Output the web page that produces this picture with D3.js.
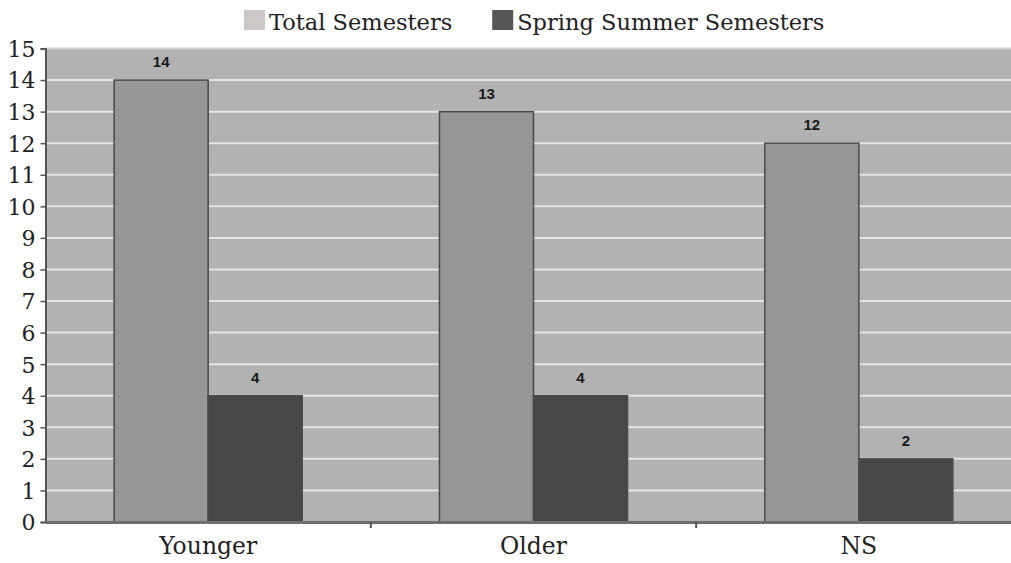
<!DOCTYPE html>
<html lang="en">
<head>
  <meta charset="utf-8">
  <title>Semesters</title>
  <style>
    body { margin: 0; background: #fff; }
    svg { display: block; }
  </style>
</head>
<body>
  <script src="https://cdn.jsdelivr.net/npm/d3@7/dist/d3.min.js"></script>
  <script>
    // chart data
    var categories = ["Younger", "Older", "NS"];
    var seriesNames = ["Total Semesters", "Spring Summer Semesters"];
    var totalSemesters = [14, 13, 12];
    var springSummer = [4, 4, 2];
    var yTicks = [0, 1, 2, 3, 4, 5, 6, 7, 8, 9, 10, 11, 12, 13, 14, 15];

    var barFill = ["#969696", "#474747"];
    var legendFill = ["#ccc8c8", "#555555"];
    var serif = "DejaVu Serif, Liberation Serif, serif";

    var W = 1011, H = 563;
    var margin = { top: 48.5, right: -10.5, bottom: 41, left: 45.5 };
    var width = W - margin.left - margin.right;
    var height = H - margin.top - margin.bottom;

    var rows = categories.map(function(c, i) {
      return { cat: c, values: [totalSemesters[i], springSummer[i]] };
    });

    var svg = d3.select("body").append("svg")
      .attr("width", W)
      .attr("height", H);

    var x0 = d3.scaleBand()
      .domain(categories)
      .range([0, width])
      .paddingInner(0)
      .paddingOuter(0);

    var x1 = d3.scaleBand()
      .domain(d3.range(seriesNames.length))
      .range([0, x0.bandwidth()])
      .paddingInner(0)
      .paddingOuter(0.73);

    var y = d3.scaleLinear()
      .domain([0, 15])
      .range([height, 0]);

    var g = svg.append("g")
      .attr("transform", "translate(" + margin.left + "," + margin.top + ")");

    // plot background
    g.append("rect")
      .attr("x", 0)
      .attr("y", 0)
      .attr("width", width)
      .attr("height", height)
      .attr("fill", "#b2b2b2");

    // grid lines
    g.append("g")
      .selectAll("line")
      .data(yTicks.filter(function(d) { return d > 0; }))
      .enter().append("line")
      .attr("x1", 0)
      .attr("x2", width)
      .attr("y1", function(d) { return y(d); })
      .attr("y2", function(d) { return y(d); })
      .attr("stroke", function(d) { return d == 15 ? "#cfcfcf" : "#e4e4e4"; })
      .attr("stroke-width", 2);

    // bars
    var groups = g.selectAll(".grp")
      .data(rows)
      .enter().append("g")
      .attr("class", "grp")
      .attr("transform", function(d) { return "translate(" + x0(d.cat) + ",0)"; });

    groups.selectAll("rect")
      .data(function(d) { return d.values; })
      .enter().append("rect")
      .attr("x", function(d, i) { return x1(i); })
      .attr("y", function(d) { return y(d); })
      .attr("width", x1.bandwidth())
      .attr("height", function(d) { return height - y(d); })
      .attr("fill", function(d, i) { return barFill[i]; })
      .attr("stroke", "#4a4a4a")
      .attr("stroke-width", 1.5);

    groups.selectAll("text")
      .data(function(d) { return d.values; })
      .enter().append("text")
      .attr("x", function(d, i) { return x1(i) + x1.bandwidth() / 2; })
      .attr("y", function(d) { return y(d) - 13; })
      .attr("text-anchor", "middle")
      .attr("font-family", "Liberation Sans, Arial, sans-serif")
      .attr("font-weight", "bold")
      .attr("font-size", 15)
      .attr("fill", "#1a1a1a")
      .text(function(d) { return d; });

    // y axis
    var yAxis = g.append("g")
      .call(d3.axisLeft(y).tickValues(yTicks).tickSize(5).tickPadding(5));
    yAxis.select(".domain").attr("stroke", "#555").attr("stroke-width", 2);
    yAxis.selectAll(".tick line").attr("stroke", "#555").attr("stroke-width", 1.5);
    yAxis.selectAll(".tick text")
      .attr("font-family", serif)
      .attr("font-size", 22)
      .attr("fill", "#222")
      .attr("dy", "0.36em");

    // x axis
    var xAxis = g.append("g")
      .attr("transform", "translate(0," + height + ")")
      .call(d3.axisBottom(x0).tickSize(0).tickPadding(15));
    xAxis.select(".domain").attr("stroke", "#6e6e6e").attr("stroke-width", 3);
    xAxis.selectAll(".tick text")
      .attr("font-family", serif)
      .attr("font-size", 23.5)
      .attr("fill", "#222");

    // category separators below axis
    g.append("g")
      .selectAll("line")
      .data(categories.slice(1))
      .enter().append("line")
      .attr("x1", function(d) { return x0(d); })
      .attr("x2", function(d) { return x0(d); })
      .attr("y1", height)
      .attr("y2", height + 6)
      .attr("stroke", "#555")
      .attr("stroke-width", 2);

    // legend
    var legend = svg.append("g").attr("transform", "translate(244,0)");
    var lx = 0;
    seriesNames.forEach(function(name, i) {
      legend.append("rect")
        .attr("x", lx)
        .attr("y", 10)
        .attr("width", 21)
        .attr("height", 20)
        .attr("fill", legendFill[i]);
      var t = legend.append("text")
        .attr("x", lx + 25)
        .attr("y", 30)
        .attr("font-family", serif)
        .attr("font-size", 22.5)
        .attr("fill", "#222")
        .text(name);
      lx += 25 + t.node().getComputedTextLength() + 40;
    });
  </script>
</body>
</html>
